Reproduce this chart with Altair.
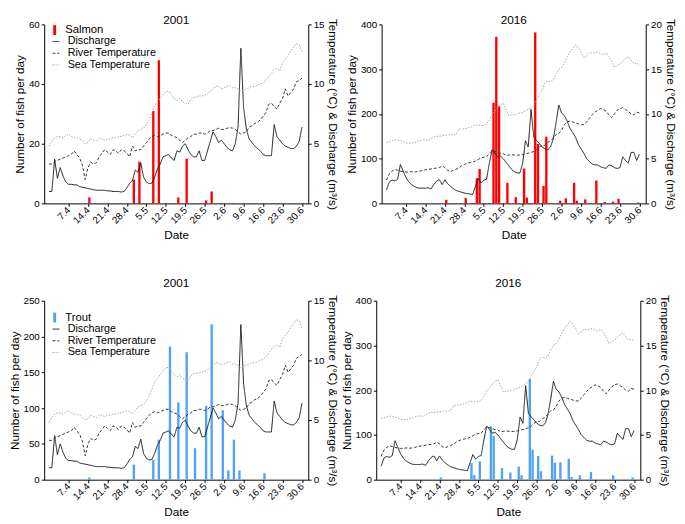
import json
import altair as alt
import pandas as pd

FONT = "Liberation Sans"

# ---------------- data ----------------
# day index 0 = 31 March ... 91 = 30 June
tick_days = [7, 14, 21, 28, 35, 42, 49, 56, 63, 70, 77, 84, 91]
tick_labels = ["7.4", "14.4", "21.4", "28.4", "5.5", "12.5", "19.5",
               "26.5", "2.6", "9.6", "16.6", "23.6", "30.6"]

series_names = ["Discharge", "River Temperature", "Sea Temperature"]

discharge_2001 = [1.0, 1.0, 3.7, 2.1, 3.0, 2.3, 1.8, 1.6, 1.6, 1.55,
                  1.55, 1.4, 1.35, 1.3, 1.25, 1.2, 1.15, 1.1, 1.1, 1.1,
                  1.1, 1.05, 1.05, 1.0, 1.0, 1.0, 0.95, 1.0, 1.3, 1.7,
                  1.9, 2.8, 2.6, 3.4, 2.2, 1.8, 1.65, 1.7, 2.2, 2.9,
                  3.3, 3.9, 4.0, 4.1, 3.8, 3.6, 4.4, 4.3, 4.8, 5.0,
                  4.5, 4.1, 3.9, 3.9, 4.4, 3.6, 3.6, 4.4, 5.2, 6.0,
                  5.6, 5.1, 5.3, 5.0, 4.7, 4.5, 4.4, 5.0, 6.4, 13.0,
                  8.0, 6.2, 5.4, 5.1, 4.8, 4.6, 4.4, 4.1, 4.0, 4.0,
                  4.0, 6.6, 5.6, 5.3, 5.0, 4.8, 4.7, 4.6, 4.6, 4.8,
                  5.2, 6.4]
river_2001 = [3.3, 3.3, 3.5, 3.6, 3.7, 3.8, 3.9, 4.0, 4.1, 4.4,
              4.1, 3.8, 3.2, 2.0, 3.0, 3.45, 3.3, 3.4, 3.9, 4.2,
              4.5, 4.3, 4.1, 4.5, 4.4, 4.2, 4.5, 4.4, 4.2, 3.9,
              4.8, 4.4, 4.5, 4.5, 4.8, 5.1, 5.4, 5.6, 5.7, 5.6,
              5.7, 5.8, 5.9, 5.9, 5.7, 5.6, 5.5, 5.3, 5.1, 5.3,
              5.5, 5.6, 5.8, 5.8, 5.9, 5.9, 5.8, 5.9, 6.1, 6.1,
              6.2, 6.3, 6.2, 6.2, 6.3, 6.35, 6.3, 6.2, 6.0, 5.8,
              5.9, 6.0, 6.4, 6.5, 6.7, 6.8, 7.0, 7.3, 7.6, 8.3,
              8.4, 8.1, 7.9, 8.4, 8.8, 9.6, 9.0, 9.3, 9.6, 10.2,
              10.3, 10.5]
sea_2001 = [4.8, 5.2, 5.5, 5.6, 5.6, 5.5, 5.7, 5.8, 5.6, 5.5,
            5.5, 5.4, 5.25, 5.0, 5.1, 5.4, 5.3, 5.2, 5.45, 5.4,
            5.3, 5.4, 5.4, 5.5, 5.5, 5.6, 5.6, 5.7, 5.8, 5.7,
            5.5, 5.8, 6.1, 6.2, 6.3, 6.6, 7.0, 7.6, 8.2, 8.5,
            8.8, 9.1, 9.4, 9.4, 9.1, 8.8, 8.6, 8.8, 8.5, 8.4,
            8.3, 8.7, 8.9, 8.9, 9.0, 9.0, 9.1, 9.2, 9.4, 9.6,
            9.8, 9.8, 9.6, 9.7, 9.8, 9.9, 9.7, 9.7, 9.6, 9.4,
            9.5, 9.6, 9.7, 9.8, 9.8, 9.9, 10.0, 10.1, 10.3, 10.6,
            10.9, 11.2, 11.3, 11.1, 11.8, 12.1, 12.4, 12.8, 13.1, 13.4,
            13.3, 12.7]

discharge_2016 = [1.5, 2.4, 2.6, 2.5, 2.7, 4.35, 3.6, 2.9, 2.4, 2.1,
                  1.9, 1.75, 1.7, 1.7, 1.7, 1.75, 1.6, 2.1, 2.5, 2.65,
                  2.1, 2.65, 2.2, 1.9, 1.65, 1.45, 1.35, 1.25, 1.15, 1.1,
                  1.05, 1.0, 1.9, 2.8, 2.3, 2.6, 2.7, 4.5, 6.0, 5.6,
                  5.2, 5.3, 5.0, 4.6, 4.2, 3.8, 3.55, 3.4, 3.4, 4.5,
                  7.0, 6.3, 10.5, 7.4, 7.0, 6.7, 6.3, 6.1, 6.0, 6.3,
                  7.2, 9.0, 11.0, 10.1, 9.8, 9.2, 8.4, 7.9, 7.4, 6.6,
                  6.1, 5.6, 5.0, 4.7, 4.4, 4.3, 4.3, 4.1, 4.0, 3.9,
                  4.3, 4.2, 4.0, 3.9, 4.0, 5.2, 4.8, 4.5, 5.7, 5.7,
                  4.8, 5.5]
river_2016 = [2.6, 3.3, 3.6, 3.8, 3.7, 3.6, 3.55, 3.5, 3.5, 3.55,
              3.5, 3.55, 3.6, 3.7, 3.75, 3.8, 3.85, 3.9, 3.95, 4.0,
              4.2, 4.0, 3.7, 3.55, 3.7, 3.8, 3.95, 4.2, 4.35, 4.5,
              4.55, 4.6, 4.75, 4.9, 5.1, 5.15, 5.2, 5.6, 5.9, 5.8,
              5.7, 5.6, 5.55, 5.35, 5.4, 5.45, 5.4, 5.4, 5.4, 5.45,
              5.55, 5.6, 5.7, 5.8, 6.0, 6.3, 6.5, 6.5, 6.8, 7.0,
              7.3, 7.7, 7.8, 8.2, 8.8, 9.1, 9.2, 9.1, 9.0, 8.9,
              8.8, 8.8, 9.1, 9.5, 9.9, 10.2, 10.4, 10.6, 10.5, 10.3,
              9.9, 9.6, 10.0, 10.4, 10.6, 10.7, 10.5, 10.3, 10.0, 9.9,
              10.2, 10.1]
sea_2016 = [6.8, 6.9, 7.0, 7.1, 7.1, 7.0, 6.9, 6.8, 6.7, 6.75,
            6.8, 6.9, 7.0, 7.1, 7.15, 7.05, 7.2, 7.45, 7.5, 7.5,
            7.55, 7.6, 7.65, 7.7, 7.65, 7.7, 8.3, 8.3, 8.35, 8.4,
            8.5, 8.6, 8.8, 8.7, 8.7, 8.7, 8.9, 9.3, 9.9, 10.3,
            10.7, 11.0, 11.2, 10.5, 9.8, 9.9, 9.9, 10.0, 10.1, 10.2,
            10.35, 10.5, 10.7, 11.0, 11.6, 12.2, 12.6, 13.5, 13.7, 13.6,
            13.8, 14.5, 15.0, 15.2, 15.7, 16.4, 16.9, 17.3, 17.7, 17.4,
            16.9, 16.3, 16.5, 16.8, 16.8, 16.8, 16.9, 16.7, 16.6, 16.8,
            16.4, 15.9, 15.2, 15.4, 15.6, 15.9, 16.2, 16.4, 16.0, 15.6,
            15.7, 15.5]

salmon_2001_days = [14, 30, 32, 37, 39, 46, 49, 56, 58]
salmon_2001_counts = [2, 8, 14, 31, 48, 2, 15, 1, 4]

salmon_2016_days = [21, 28, 32, 33, 38, 39, 40, 43, 46, 49, 50, 53, 54, 56, 57,
                    62, 64, 67, 68, 71, 75, 78, 81, 83, 90]
salmon_2016_counts = [8, 12, 56, 77, 225, 372, 217, 46, 14, 78, 13, 382, 133, 39, 149,
                      6, 11, 46, 6, 9, 51, 3, 4, 10, 2]

trout_2001_days = [14, 30, 37, 39, 43, 46, 49, 52, 56, 58, 62, 64, 66, 68, 77]
trout_2001_counts = [3, 21, 28, 56, 186, 108, 178, 44, 103, 217, 97, 13, 56, 13, 9]

trout_2016_days = [21, 32, 33, 35, 39, 40, 43, 46, 49, 50, 53, 54, 56, 57,
                   61, 62, 64, 67, 68, 71, 75, 83, 90]
trout_2016_counts = [5, 37, 10, 41, 119, 98, 26, 16, 29, 10, 225, 67, 53, 19,
                     54, 38, 39, 47, 6, 10, 17, 10, 5]

# ---------------- styling ----------------
W, H = 270, 183
RIGHT_TITLE = "Temperature (°C) & Discharge (m³/s)"
label_expr = json.dumps(tick_labels).replace('"', "'") + "[round(datum.value / 7) - 1]"
x_scale = alt.Scale(domain=[0, 91.5], nice=False, zero=False)


def x_axis():
    return alt.Axis(values=tick_days, labelExpr=label_expr, labelAngle=-45,
                    labelAlign="right", labelBaseline="middle",
                    labelOverlap=False, labelBound=False,
                    title="Date", titlePadding=5)


def lines_frame(discharge, river, sea):
    rows = []
    for name, vals in zip(series_names, [discharge, river, sea]):
        for d, v in enumerate(vals):
            rows.append({"day": d, "value": v, "series": name})
    return pd.DataFrame(rows)


def panel(year, fish_name, days, counts, color, left_max, left_step,
          right_max, lines_df, legend_y, title_offset):
    bar_df = pd.DataFrame({"day": days, "count": counts, "species": fish_name})
    if legend_y is not None:
        leg_bar = alt.Legend(title=None, orient="none", legendX=5, legendY=legend_y,
                             symbolType="M-0.3,-1H0.3V1H-0.3Z", symbolSize=100,
                             symbolStrokeWidth=0, labelOffset=5, padding=0,
                             labelFontSize=11.5, labelFont=FONT)
        leg_line = alt.Legend(title=None, orient="none", legendX=6.5,
                              legendY=legend_y + 12,
                              symbolType="stroke", symbolSize=49,
                              symbolStrokeWidth=1, labelOffset=6.5, padding=0,
                              rowPadding=0, labelFontSize=11, labelFont=FONT)
    else:
        leg_bar = None
        leg_line = None

    bars = alt.Chart(bar_df).transform_calculate(
        pos="datum.day + 0.5"
    ).mark_bar(width=2.4).encode(
        x=alt.X("pos:Q", scale=x_scale, axis=x_axis()),
        y=alt.Y("count:Q",
                scale=alt.Scale(domain=[0, left_max], nice=False),
                axis=alt.Axis(values=list(range(0, left_max + 1, left_step)),
                              orient="left", title="Number of fish per day")),
        fill=alt.Fill("species:N",
                      scale=alt.Scale(domain=[fish_name], range=[color]),
                      legend=leg_bar),
    )

    lines = alt.Chart(lines_df).mark_line(strokeWidth=1).encode(
        x=alt.X("day:Q", scale=x_scale, axis=x_axis()),
        y=alt.Y("value:Q",
                scale=alt.Scale(domain=[0, right_max], nice=False),
                axis=alt.Axis(values=list(range(0, right_max + 1, 5)),
                              orient="right", title=RIGHT_TITLE)),
        stroke=alt.Stroke("series:N",
                          scale=alt.Scale(domain=series_names,
                                          range=["#1a1a1a", "#333333", "#a6a6a6"]),
                          legend=leg_line),
        strokeDash=alt.StrokeDash("series:N",
                                  scale=alt.Scale(domain=series_names,
                                                  range=[[1, 0], [3, 2], [1.5, 1.5]]),
                                  legend=leg_line),
    )

    return alt.layer(bars, lines).resolve_scale(y="independent").properties(
        width=W, height=H,
        title=alt.TitleParams(year, fontSize=12, fontWeight="normal", font=FONT,
                              anchor="middle", frame="group", offset=title_offset),
    )


lines01 = lines_frame(discharge_2001, river_2001, sea_2001)
lines16 = lines_frame(discharge_2016, river_2016, sea_2016)

tl = panel("2001", "Salmon", salmon_2001_days, salmon_2001_counts, "#ff0000",
           60, 20, 15, lines01, 0, -9)
tr = panel("2016", "Salmon", salmon_2016_days, salmon_2016_counts, "#ff0000",
           400, 100, 20, lines16, None, -9)
bl = panel("2001", "Trout", trout_2001_days, trout_2001_counts, "#4fa3f7",
           250, 50, 15, lines01, 11.5, 5)
br = panel("2016", "Trout", trout_2016_days, trout_2016_counts, "#4fa3f7",
           400, 100, 20, lines16, None, 5)

indep = dict(fill="independent", stroke="independent", strokeDash="independent")

top = alt.hconcat(tl, tr, spacing=6).resolve_scale(**indep)
bottom = alt.hconcat(bl, br, spacing=0.5).resolve_scale(**indep)

chart = alt.vconcat(top, bottom, spacing=35.5).resolve_scale(**indep).properties(
    padding={"left": 0, "top": 0, "right": 0, "bottom": 0}
).configure_view(stroke=None).configure_axis(
    labelFont=FONT, labelFontSize=10, labelColor="black",
    titleFont=FONT, titleFontSize=12, titleFontWeight="normal", titleColor="black",
    domainColor="black", tickColor="black", domainWidth=1, tickWidth=1,
    tickSize=3, labelPadding=2, titlePadding=2, grid=False,
).configure_legend(labelFont=FONT, labelColor="black")

chart.save("out.html", embed_options={"renderer": "svg", "actions": False})
